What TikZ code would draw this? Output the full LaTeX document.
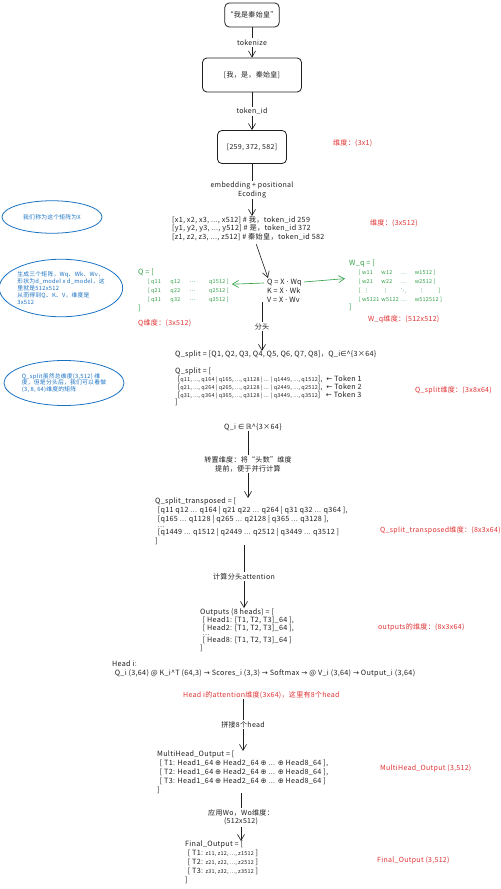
\documentclass[tikz,border=0pt]{standalone}
\usepackage{fontspec}
\setmainfont{Noto Sans CJK SC}[LetterSpace=4]
\newfontfamily\symfont{DejaVu Sans}
\usepackage{tikz}
\usetikzlibrary{positioning,arrows.meta,shapes.geometric,calc}
\definecolor{ink}{RGB}{30,30,30}
\definecolor{dimred}{RGB}{224,49,49}
\definecolor{matgreen}{RGB}{47,158,68}
\definecolor{noteblue}{RGB}{25,113,194}
\newcommand\fs[2]{\fontsize{#1}{#2}\selectfont}
\newcommand\sy[1]{{\symfont #1}}
\newcommand\sm[1]{{\fs{6.2}{9}#1}}
\newcommand\cel[2][22pt]{\makebox[#1][l]{#2}}
\tikzset{
    stepbox/.style={draw=ink,line width=0.9pt,rounded corners=5pt,text=ink,font=\fs{8}{10},inner sep=2pt},
    code/.style={anchor=north west,align=left,inner sep=0pt,text=ink,font=\fs{8.2}{10}},
    mat/.style={code,text=matgreen},
    dim/.style={anchor=west,inner sep=0pt,text=dimred,font=\fs{8}{10}},
    note/.style={ellipse,draw=noteblue,line width=0.9pt,text=noteblue,align=left,inner sep=0pt,font=\fs{6.6}{7.8}},
    edge/.style={-{Straight Barb[length=2.4mm,width=2.8mm]},draw=ink,line width=0.7pt},
    gedge/.style={edge,draw=matgreen},
    lbl/.style={fill=white,inner sep=1.5pt,align=center,text=ink,font=\fs{8}{10}},
}

\begin{document}
\begin{tikzpicture}[x=0.04cm,y=-0.04cm]
\useasboundingbox (0,0) rectangle (500,889);

% sentence and tokens
\node[stepbox,minimum width=2.16cm,minimum height=0.96cm] (s0) at (252,15) {“我是秦始皇”};
\node[stepbox,minimum width=3.96cm,minimum height=1.36cm] (s1) at (252,75) {[我，是，秦始皇]};
\node[stepbox,minimum width=2.76cm,minimum height=1.32cm] (s2) at (252,147) {[259, 372, 582]};
\node[dim] (d1) at (333,143) {维度：(3x1)};

\draw[edge] (s0) -- node[lbl]{tokenize} (s1);
\draw[edge] (s1) -- node[lbl]{token\_id} (s2);

% embeddings
\node[code] (xyz) at (172,216) {{[}x1, x2, x3, ..., x512] \# 我，token\_id 259\\
{[}y1, y2, y3, ..., y512] \# 是，token\_id 372\\
{[}z1, z2, z3, ..., z512] \# 秦始皇，token\_id 582};
\node[dim] (d2) at (370,223) {维度：(3x512)};
\draw[edge] (s2) -- node[lbl]{embedding + positional\\Ecoding} (s2.south |- xyz.north);

% projections
\node[code] (qeq) at (267,279) {Q = X \sy{·} Wq\\K = X \sy{·} Wk\\V = X \sy{·} Wv};
\node[mat] (qmat) at (138,269) {Q = [\\
\hspace*{11pt}\sm{[ \cel{q11}\cel{q12}\cel{\sy{⋯}}q1512 ]}\\
\hspace*{11pt}\sm{[ \cel{q21}\cel{q22}\cel{\sy{⋯}}q2512 ]}\\
\hspace*{11pt}\sm{[ \cel{q31}\cel{q32}\cel{\sy{⋯}}q3512 ]}\\
]};
\node[mat] (wq) at (349,260) {W\_q = [\\
\hspace*{11pt}\sm{[ \cel{w11}\cel{w12}\cel[16pt]{...}w1512 ]}\\
\hspace*{11pt}\sm{[ \cel{w21}\cel{w22}\cel[16pt]{...}w2512 ]}\\
\hspace*{11pt}\sm{[ \cel{\ \sy{⋮}}\cel{\ \sy{⋮}}\cel[16pt]{\sy{⋱}}\ \ \ \sy{⋮} \hspace{14pt}]}\\
\hspace*{11pt}\sm{[ \cel{w5121}\cel{w5122}\cel[16pt]{...}w512512 ]}\\
]};
\node[dim] (d3) at (138,323) {Q维度：(3x512)};
\node[dim] (d4) at (368,319) {W\_q维度：(512x512)};

\draw[edge] ($(xyz.south)+(8,3)$) -- ($(qeq.north west)+(1,-1)$);
\draw[gedge] ($(qeq.north west)+(-3,4)$) -- ($(qmat.east)+(3,-6)$);
\draw[gedge] ($(qeq.north east)+(2,3)$) -- ($(wq.west)+(-4,-7)$);

% split into heads
\node[code] (qsplit1) at (175,351) {Q\_split = [Q1, Q2, Q3, Q4, Q5, Q6, Q7, Q8]，Q\_i\sy{∈}\^{}\{3×64\}};
\node[code,font=\fs{8.2}{8.8}] (qsplit2) at (175,368) {Q\_split = [\\
\hspace*{3pt}[\sm{q11, ..., q164 | q165, ..., q1128 | ... | q1449, ..., q1512}], \ \sy{←} Token 1\\
\hspace*{3pt}[\sm{q21, ..., q264 | q265, ..., q2128 | ... | q2449, ..., q2512}], \ \sy{←} Token 2\\
\hspace*{3pt}[\sm{q31, ..., q364 | q365, ..., q3128 | ... | q3449, ..., q3512}] \ \ \sy{←} Token 3\\
]};
\node[dim] (d5) at (415,390) {Q\_split维度：(3x8x64)};
\draw[edge] (262,0 |- qeq.south) -- node[lbl]{分头} (262,0 |- qsplit1.north);

\node[code,anchor=west] (qi) at (224,427) {Q\_i \sy{∈} \sy{ℝ}\^{}\{3×64\}};

% transpose
\node[code] (qtrans) at (155,498) {Q\_split\_transposed = [\\
\hspace*{3pt}[q11 q12 ... q164 | q21 q22 ... q264 | q31 q32 ... q364 ],\\
\hspace*{3pt}[q165 ... q1128 | q265 ... q2128 | q365 ... q3128 ],\\[-3pt]
\hspace*{3pt}...\\[-2pt]
\hspace*{3pt}[q1449 ... q1512 | q2449 ... q2512 | q3449 ... q3512 ]\\
]};
\node[dim] (d6) at (380,530) {Q\_split\_transposed维度：(8x3x64)};
\draw[edge] (248,0 |- qi.south) -- node[lbl]{转置维度：将“头数”维度\\提前，便于并行计算} (248,0 |- qtrans.north);

% attention per head
\node[code,font=\fs{8.2}{9.2}] (outs) at (200,608) {Outputs (8 heads) = [\\
\hspace*{3pt}[ Head1: [T1, T2, T3]\_64 ],\\
\hspace*{3pt}[ Head2: [T1, T2, T3]\_64 ],\\[-3pt]
\hspace*{3pt}...\\[-1pt]
\hspace*{3pt}[ Head8: [T1, T2, T3]\_64 ]\\
]};
\node[dim] (d7) at (378,627) {outputs的维度：(8x3x64)};
\draw[edge] (244,0 |- qtrans.south) -- node[lbl]{计算分头attention} (244,0 |- outs.north);

\node[code,font=\fs{8.2}{9.5}] (headf) at (112,661) {Head i:\\
\hspace*{3pt}Q\_i (3,64) @ K\_i\^{}T (64,3) \sy{→} Scores\_i (3,3) \sy{→} Softmax \sy{→} @ V\_i (3,64) \sy{→} Output\_i (3,64)};
\node[dim] (d8) at (183,695) {Head i的attention维度(3x64)，这里有8个head};

% concat and output projection
\node[code] (mh) at (157,751) {MultiHead\_Output = [\\
\hspace*{3pt}[ T1: Head1\_64 \sy{⊕} Head2\_64 \sy{⊕} ... \sy{⊕} Head8\_64 ],\\
\hspace*{3pt}[ T2: Head1\_64 \sy{⊕} Head2\_64 \sy{⊕} ... \sy{⊕} Head8\_64 ],\\
\hspace*{3pt}[ T3: Head1\_64 \sy{⊕} Head2\_64 \sy{⊕} ... \sy{⊕} Head8\_64 ]\\
]};
\node[dim] (d9) at (380,768) {MultiHead\_Output (3,512)};
\draw[edge] (243,0 |- d8.south) -- node[lbl]{拼接8个head} (243,0 |- mh.north);

\node[code] (fin) at (185,841) {Final\_Output = [\\
\hspace*{3pt}[ T1: \sm{z11, z12, ..., z1512} ]\\
\hspace*{3pt}[ T2: \sm{z21, z22, ..., z2512} ]\\
\hspace*{3pt}[ T3: \sm{z31, z32, ..., z3512} ]\\
]};
\node[dim] (d10) at (377,860) {Final\_Output (3,512)};
\draw[edge] (241,0 |- mh.south) -- node[lbl]{应用Wo，Wo维度：\\(512x512)} (241,0 |- fin.north);

% notes
\node[note,minimum width=4cm,minimum height=1.3cm] (n1) at (52,217) {我们称为这个矩阵为X};
\node[note,minimum width=4.75cm,minimum height=2.3cm] (n2) at (61,288) {生成三个矩阵，Wq、Wk、Wv，\\形状为d\_model x d\_model，这\\里就是512x512\\从而得到Q、K、V，维度是\\3x512};
\node[note,minimum width=4.8cm,minimum height=1.8cm] (n3) at (64,383) {Q\_split虽然总维度(3,512) 维\\度，但是分头后，我们可以看做\\(3, 8, 64)维度的矩阵};
\end{tikzpicture}
\end{document}
